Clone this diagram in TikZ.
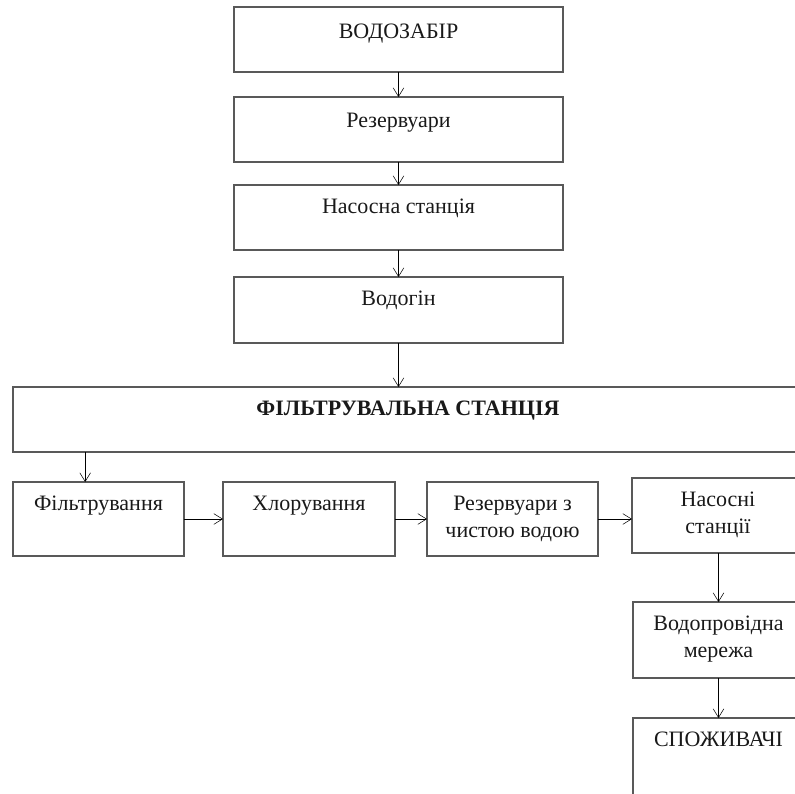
\documentclass[tikz,border=0pt]{standalone}
\usepackage{fontspec}
\setmainfont{Liberation Serif}
\usetikzlibrary{arrows.meta}
\tikzset{
->,
>={Straight Barb[length=6.5pt,width=8pt]},
x=0.75pt, y=-0.75pt,
line width=0.9pt,
every node/.style={font=\fontsize{16.5}{20.5}\selectfont},
box/.style 2 args={draw=black!65, line width=1.1pt, rectangle, anchor=north west, inner sep=0pt, outer sep=0pt,
  minimum width=#1*0.75pt, minimum height=#2*0.75pt},
boxtext/.style={anchor=north, yshift=-10pt, inner sep=0pt, align=center, text=black!90},
}

\begin{document}
\begin{tikzpicture}
    \useasboundingbox (0,0) rectangle (795,793);
    \clip (0,0) rectangle (795,793);

    % main line
    \node[box={329}{65}, label={[boxtext, yshift=-2.5pt]north:ВОДОЗАБІР}] (intake) at (234,7) {};
    \node[box={329}{65}, label={[boxtext, yshift=-1.5pt]north:Резервуари}] (reservoir) at (234,97) {};
    \node[box={329}{65}, label={[boxtext]north:Насосна станція}] (pump) at (234,185) {};
    \node[box={329}{66}, label={[boxtext]north:Водогін}] (main) at (234,277) {};
    \node[box={790}{65}, label={[boxtext, font=\fontsize{16.5}{20.5}\selectfont\bfseries]north:ФІЛЬТРУВАЛЬНА СТАНЦІЯ}] (filter) at (13,387) {};

    % station steps
    \node[box={171}{74}, label={[boxtext]north:Фільтрування}] (filtering) at (13,482) {};
    \node[box={172}{74}, label={[boxtext]north:Хлорування}] (chlor) at (223,482) {};
    \node[box={171}{74}, label={[boxtext]north:Резервуари з\\чистою водою}] (clean) at (427,482) {};
    \node[box={172}{75}, label={[boxtext]north:Насосні\\станції}] (pumps) at (632,478) {};
    \node[box={171}{76}, label={[boxtext]north:Водопровідна\\мережа}] (network) at (633,602) {};
    \node[box={171}{100}, label={[boxtext]north:СПОЖИВАЧІ}] (users) at (633,718) {};

    \draw (intake) -- (reservoir);
    \draw (reservoir) -- (pump);
    \draw (pump) -- (main);
    \draw (main.south) -- (main.south |- filter.north);
    \draw ([xshift=-10pt]filtering.north |- filter.south) -- ([xshift=-10pt]filtering.north);
    \draw (filtering) -- (chlor);
    \draw (chlor) -- (clean);
    \draw (clean.east) -- (clean.east -| pumps.west);
    \draw (pumps.south -| network.north) -- (network.north);
    \draw (network) -- (users);
\end{tikzpicture}
\end{document}
